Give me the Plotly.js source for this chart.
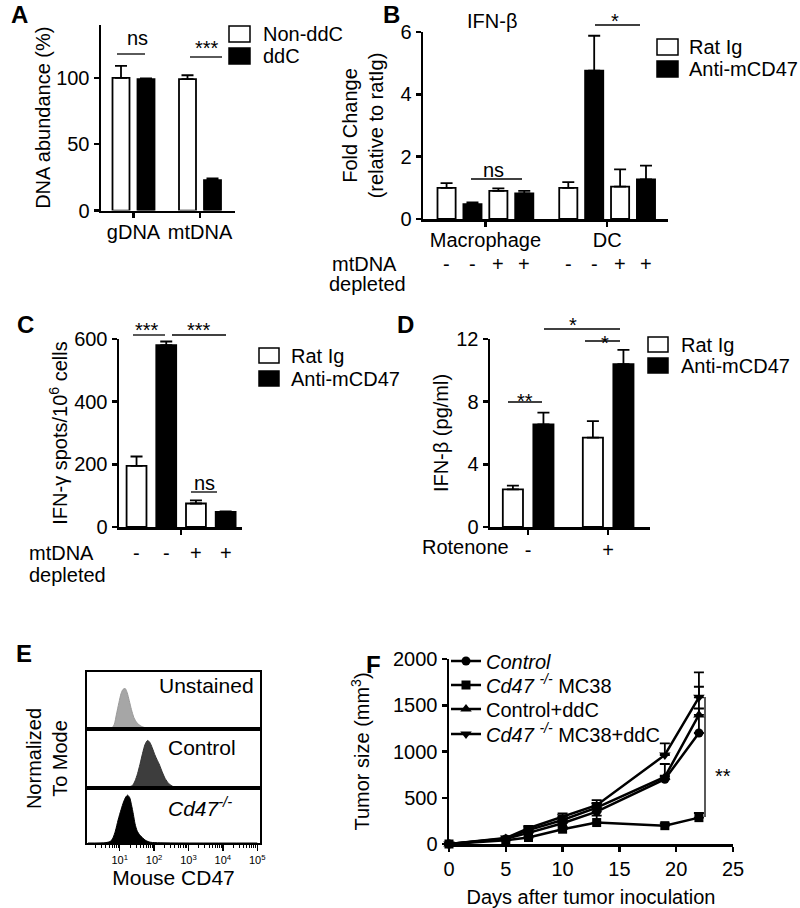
<!DOCTYPE html>
<html>
<head>
<meta charset="utf-8">
<script src="https://cdn.plot.ly/plotly-3.0.1.min.js"></script>
<style>
html, body { margin: 0; padding: 0; background: #ffffff; }
#chart { width: 800px; height: 908px; }
</style>
</head>
<body>
<div id="chart"></div>
<script>
// ===================== DATA =====================
// Panel A
const aCategories = ["gDNA", "mtDNA"];
const aLegend = ["Non-ddC", "ddC"];
const aNonDdc = [100, 99];
const aNonDdcErr = [9, 3];
const aDdc = [99, 23];
const aDdcErr = [0.6, 1.2];

// Panel B  (per cell type: [mtDNA intact, mtDNA depleted])
const bTitle = "IFN-β";
const bCellTypes = ["Macrophage", "DC"];
const bDepleted = ["-", "+"];
const bRatIg = [[1.0, 0.9], [1.0, 1.04]];
const bRatIgErr = [[0.15, 0.08], [0.18, 0.55]];
const bAnti = [[0.48, 0.82], [4.76, 1.27]];
const bAntiErr = [[0.05, 0.08], [1.12, 0.44]];
const treatLegend = ["Rat Ig", "Anti-mCD47"];

// Panel C
const cDepleted = ["-", "+"];
const cRatIg = [195, 75];
const cRatIgErr = [30, 10];
const cAnti = [580, 48];
const cAntiErr = [12, 2];

// Panel D
const dRotenone = ["-", "+"];
const dRatIg = [2.4, 5.7];
const dRatIgErr = [0.24, 1.06];
const dAnti = [6.55, 10.4];
const dAntiErr = [0.75, 0.9];

// Panel E (flow histograms, % of mode)
const eLabels = ["Unstained", "Control", "<i>Cd47<sup>-/-</sup></i>"];
const eTickVals = [10, 100, 1000, 10000, 100000];
const eTickText = ["10<sup>1</sup>", "10<sup>2</sup>", "10<sup>3</sup>", "10<sup>4</sup>", "10<sup>5</sup>"];
const eUnstX = [1.2, 4, 6, 7, 8, 9.5, 11, 12.5, 14.5, 16.5, 19, 22, 26, 32, 42, 60, 120, 1000, 100000];
const eUnstY = [0, 0.5, 3, 12, 35, 65, 88, 98, 100, 90, 70, 48, 28, 15, 7, 2.5, 0.7, 0.3, 0];
const eCtrlX = [1.2, 5, 9, 14, 20, 24, 28, 33, 39, 46, 55, 65, 75, 88, 105, 125, 145, 170, 210, 270, 360, 500, 1000, 3000, 100000];
const eCtrlY = [0, 0.5, 2, 3, 3, 6, 15, 30, 50, 72, 92, 100, 96, 85, 70, 58, 48, 35, 20, 9, 3, 1.5, 0.5, 1, 0];
const eKoX = [1.2, 4, 5.5, 6.5, 7.5, 9, 11, 13, 15, 17, 19.5, 22, 25, 28, 32, 38, 46, 58, 80, 150, 100000];
const eKoY = [0, 0.8, 4, 12, 25, 48, 70, 86, 96, 100, 95, 80, 60, 40, 26, 17, 11, 5, 1.5, 0.4, 0];

// Panel F (tumor growth)
const fDays = [0, 5, 7, 10, 13, 19, 22];
const fNames = ["<i>Control</i>", "<i>Cd47 <sup>-/-</sup></i> MC38", "Control+ddC", "<i>Cd47 <sup>-/-</sup></i> MC38+ddC"];
const fControl = [0, 55, 120, 225, 350, 700, 1200];
const fControlErr = [0, 10, 20, 30, 45, 40, 265];
const fKo = [0, 40, 70, 160, 232, 198, 285];
const fKoErr = [0, 8, 15, 25, 75, 25, 50];
const fCtrlDdc = [0, 60, 150, 260, 393, 725, 1395];
const fCtrlDdcErr = [0, 12, 25, 35, 50, 140, 305];
const fKoDdc = [0, 65, 170, 295, 420, 962, 1586];
const fKoDdcErr = [0, 12, 25, 35, 55, 126, 270];

// ===================== HELPERS =====================
const W = 800, H = 908;
const px = v => v / W;
const py = v => 1 - v / H;
const FONT = "Liberation Sans, Arial, Helvetica, sans-serif";
const f20 = {family: FONT, size: 20, color: '#000'};

function baseAxis(extra) {
  return Object.assign({
    showline: true, linecolor: '#000', linewidth: 2.5,
    ticks: 'outside', ticklen: 5, tickwidth: 2.5, tickcolor: '#000',
    showgrid: false, zeroline: false, fixedrange: true, automargin: false,
    tickfont: f20
  }, extra);
}
function barTrace(xs, ys, errs, fill, xa, ya, width) {
  return {
    type: 'bar', x: xs, y: ys, width: width, xaxis: xa, yaxis: ya,
    marker: {color: fill, line: {color: '#000', width: 1.8}},
    error_y: {type: 'data', array: errs, arrayminus: errs.map(() => 0), symmetric: false,
              visible: true, color: '#000', thickness: 1.8, width: 6},
    showlegend: false, hoverinfo: 'skip'
  };
}
function ann(text, x, y, opts) {
  return Object.assign({text: text, x: px(x), y: py(y), xref: 'paper', yref: 'paper',
    showarrow: false, xanchor: 'center', yanchor: 'middle', borderpad: 0, font: f20}, opts || {});
}
function rect(x0, y0, x1, y1, fill) {
  return {type: 'rect', xref: 'paper', yref: 'paper', x0: px(x0), x1: px(x1), y0: py(y0), y1: py(y1),
          fillcolor: fill, line: {color: '#000', width: 1.5}};
}
function seg(x0, y0, x1, y1) {
  return {type: 'line', xref: 'paper', yref: 'paper', x0: px(x0), x1: px(x1), y0: py(y0), y1: py(y1),
          line: {color: '#000', width: 1.3}};
}

const traces = [];
const annotations = [];
const shapes = [];

// ----- Panel A -----
const aStep = 2.66, aW = 0.68;
const aPosW = aCategories.map((_, g) => g * aStep);
const aPosB = aCategories.map((_, g) => g * aStep + 1);
traces.push(barTrace(aPosW, aNonDdc, aNonDdcErr, '#fff', 'x', 'y', aW));
traces.push(barTrace(aPosB, aDdc, aDdcErr, '#000', 'x', 'y', aW));

// ----- Panel B -----
const bStep = 4.7, bW = 0.7;
const bPosW = [], bValW = [], bErrW = [], bPosB = [], bValB = [], bErrB = [];
bCellTypes.forEach((_, g) => bDepleted.forEach((_, k) => {
  bPosW.push(g * bStep + 2 * k); bValW.push(bRatIg[g][k]); bErrW.push(bRatIgErr[g][k]);
  bPosB.push(g * bStep + 2 * k + 1); bValB.push(bAnti[g][k]); bErrB.push(bAntiErr[g][k]);
}));
traces.push(barTrace(bPosW, bValW, bErrW, '#fff', 'x2', 'y2', bW));
traces.push(barTrace(bPosB, bValB, bErrB, '#000', 'x2', 'y2', bW));
bCellTypes.forEach((_, g) => [0, 1, 2, 3].forEach(j => {
  annotations.push({text: bDepleted[Math.floor(j / 2)], x: g * bStep + j, xref: 'x2', y: py(264), yref: 'paper',
    showarrow: false, xanchor: 'center', yanchor: 'middle', borderpad: 0, font: f20});
}));

// ----- Panel C -----
const cW = 0.67;
const cPosW = cDepleted.map((_, k) => 2 * k);
const cPosB = cDepleted.map((_, k) => 2 * k + 1);
traces.push(barTrace(cPosW, cRatIg, cRatIgErr, '#fff', 'x3', 'y3', cW));
traces.push(barTrace(cPosB, cAnti, cAntiErr, '#000', 'x3', 'y3', cW));
[0, 1, 2, 3].forEach(j => {
  annotations.push({text: cDepleted[Math.floor(j / 2)], x: j, xref: 'x3', y: py(553), yref: 'paper',
    showarrow: false, xanchor: 'center', yanchor: 'middle', borderpad: 0, font: f20});
});

// ----- Panel D -----
const dStep = 2.62, dW = 0.66;
const dPosW = dRotenone.map((_, g) => g * dStep);
const dPosB = dRotenone.map((_, g) => g * dStep + 1);
traces.push(barTrace(dPosW, dRatIg, dRatIgErr, '#fff', 'x4', 'y4', dW));
traces.push(barTrace(dPosB, dAnti, dAntiErr, '#000', 'x4', 'y4', dW));

// ----- Panel E -----
function histTrace(xs, ys, lineColor, fillColor, xa, ya) {
  return {type: 'scatter', mode: 'lines', x: xs, y: ys, xaxis: xa, yaxis: ya,
    line: {color: lineColor, width: 1, shape: 'spline', smoothing: 0.7},
    fill: 'tozeroy', fillcolor: fillColor, showlegend: false, hoverinfo: 'skip'};
}
traces.push(histTrace(eUnstX, eUnstY, '#9a9a9a', '#a6a6a6', 'x5', 'y5'));
traces.push(histTrace(eCtrlX, eCtrlY, '#333333', '#3d3d3d', 'x6', 'y6'));
traces.push(histTrace(eKoX, eKoY, '#000000', '#000000', 'x7', 'y7'));
const eMinor = [];
[0, 1, 2, 3, 4].forEach(k => [2, 3, 4, 5, 6, 7, 8, 9].forEach(m => eMinor.push(m * Math.pow(10, k))));

// ----- Panel F -----
const fSeries = [
  [fControl, fControlErr, 'circle', 9],
  [fKo, fKoErr, 'square', 9],
  [fCtrlDdc, fCtrlDdcErr, 'triangle-up', 10],
  [fKoDdc, fKoDdcErr, 'triangle-down', 10]
];
const legendIds = ['legend', 'legend2', 'legend3', 'legend4'];
fSeries.forEach((s, i) => {
  traces.push({
    type: 'scatter', mode: 'lines+markers', name: fNames[i], x: fDays, y: s[0],
    xaxis: 'x8', yaxis: 'y8', cliponaxis: false,
    line: {color: '#000', width: 2.5},
    marker: {symbol: s[2], size: s[3], color: '#000'},
    error_y: {type: 'data', array: s[1], arrayminus: s[1].map(() => 0), symmetric: false,
              color: '#000', thickness: 1.8, width: 5},
    legend: legendIds[i], showlegend: true, hoverinfo: 'skip'
  });
});
function legendAt(yPx) {
  return {x: px(446), y: py(yPx), xanchor: 'left', yanchor: 'middle', bgcolor: 'rgba(0,0,0,0)',
          borderwidth: 0, font: f20, itemwidth: 30};
}

// ----- Annotations: panel letters -----
const letterFont = {family: FONT, size: 24, color: '#000', weight: 'bold'};
[['A', 19, 14], ['B', 391, 14], ['C', 25, 324], ['D', 406, 324], ['E', 24, 653], ['F', 373, 664]]
  .forEach(l => annotations.push(ann('<b>' + l[0] + '</b>', l[1], l[2], {font: letterFont})));

// Legends for bar panels (boxes + labels)
shapes.push(rect(229, 26, 250, 42, '#fff'), rect(229, 48, 250, 64, '#000'));
annotations.push(ann(aLegend[0], 262, 34, {xanchor: 'left'}), ann(aLegend[1], 262, 56, {xanchor: 'left'}));
shapes.push(rect(657, 39, 678, 55, '#fff'), rect(657, 61, 678, 77, '#000'));
annotations.push(ann(treatLegend[0], 688, 47, {xanchor: 'left'}), ann(treatLegend[1], 688, 69, {xanchor: 'left'}));
shapes.push(rect(259, 348, 279, 363, '#fff'), rect(259, 371, 279, 386, '#000'));
annotations.push(ann(treatLegend[0], 290, 356, {xanchor: 'left'}), ann(treatLegend[1], 290, 379, {xanchor: 'left'}));
shapes.push(rect(648, 337, 668, 352, '#fff'), rect(648, 358, 668, 373, '#000'));
annotations.push(ann(treatLegend[0], 680, 345, {xanchor: 'left'}), ann(treatLegend[1], 680, 366, {xanchor: 'left'}));

// Significance brackets
shapes.push(seg(117, 54, 145, 54), seg(190, 57, 222, 57));
annotations.push(ann('ns', 137, 38), ann('***', 207, 47.7));
shapes.push(seg(471, 179, 522, 179), seg(595, 25, 640, 25));
annotations.push(ann('ns', 493, 170.3), ann('*', 615, 21));
shapes.push(seg(133, 335, 165, 335), seg(172, 335, 226, 335), seg(191, 492, 217, 492));
annotations.push(ann('***', 147, 329.7), ann('***', 199, 329.7), ann('ns', 204, 483.3));
shapes.push(seg(508, 402, 542, 402), seg(544, 329, 620, 329), seg(585, 341, 620, 341));
annotations.push(ann('**', 525, 400.7), ann('*', 573, 325.2), ann('*', 605, 342.7));
shapes.push(seg(705, 697, 705, 817));
annotations.push(ann('**', 723, 775.7));

// Other labels
annotations.push(ann(bTitle, 492, 21.5));
annotations.push(ann('mtDNA', 331, 264, {xanchor: 'left'}), ann('depleted', 328, 284, {xanchor: 'left'}));
annotations.push(ann('mtDNA', 28, 553, {xanchor: 'left'}), ann('depleted', 28, 575, {xanchor: 'left'}));
annotations.push(ann('Rotenone', 465, 547));
annotations.push(ann(eLabels[0], 255, 685, {xanchor: 'right', font: {family: FONT, size: 21, color: '#000'}}));
annotations.push(ann(eLabels[1], 167, 747, {xanchor: 'left', font: {family: FONT, size: 21, color: '#000'}}));
annotations.push(ann(eLabels[2], 167, 807, {xanchor: 'left', font: {family: FONT, size: 21, color: '#000'}}));

// ===================== LAYOUT =====================
const eXBase = {type: 'log', domain: [px(87), px(260)], range: [0.05, 5.08], showline: true, mirror: true,
  linecolor: '#000', linewidth: 2, showgrid: false, zeroline: false, fixedrange: true};
const eYBase = {showline: true, mirror: true, linecolor: '#000', linewidth: 2, ticks: '',
  showticklabels: false, showgrid: false, zeroline: false, fixedrange: true};

const layout = {
  width: W, height: H, margin: {l: 0, r: 0, t: 0, b: 0},
  paper_bgcolor: '#fff', plot_bgcolor: 'rgba(0,0,0,0)',
  font: f20, barmode: 'overlay', hovermode: false,
  // A
  xaxis: baseAxis({domain: [px(101), px(235)], range: [-0.8, 4.56], anchor: 'y', ticklabelstandoff: -3,
    tickvals: aCategories.map((_, g) => g * aStep + 0.5), ticktext: aCategories}),
  yaxis: baseAxis({domain: [py(210.6), py(24.8)], range: [0, 140], anchor: 'x', tickvals: [0, 50, 100],
    title: {text: 'DNA abundance (%)', font: f20, standoff: 0}}),
  // B
  xaxis2: baseAxis({domain: [px(423), px(668)], range: [-0.91, 8.55], anchor: 'y2', ticklabelstandoff: -4,
    tickvals: bCellTypes.map((_, g) => g * bStep + 1.5), ticktext: bCellTypes}),
  yaxis2: baseAxis({domain: [py(219), py(32)], range: [0, 6], anchor: 'x2', tickvals: [0, 2, 4, 6],
    title: {text: 'Fold Change<br>(relative to ratIg)', font: f20, standoff: 12}}),
  // C
  xaxis3: baseAxis({domain: [px(119), px(242)], range: [-0.59, 3.55], anchor: 'y3',
    tickvals: [1.5], showticklabels: false}),
  yaxis3: baseAxis({domain: [py(527), py(339)], range: [0, 600], anchor: 'x3', tickvals: [0, 200, 400, 600],
    title: {text: 'IFN-γ spots/10<sup>6</sup> cells', font: f20, standoff: 1}}),
  // D
  xaxis4: baseAxis({domain: [px(490), px(650)], range: [-0.75, 4.49], anchor: 'y4', ticklabelstandoff: -2,
    tickvals: dRotenone.map((_, g) => g * dStep + 0.5), ticktext: dRotenone}),
  yaxis4: baseAxis({domain: [py(527), py(339)], range: [0, 12], anchor: 'x4', tickvals: [0, 4, 8, 12],
    title: {text: 'IFN-β (pg/ml)', font: f20, standoff: 3}}),
  // E
  xaxis5: Object.assign({}, eXBase, {anchor: 'y5', matches: 'x7', ticks: '', showticklabels: false}),
  xaxis6: Object.assign({}, eXBase, {anchor: 'y6', matches: 'x7', ticks: '', showticklabels: false}),
  xaxis7: Object.assign({}, eXBase, {anchor: 'y7', ticks: 'outside', ticklen: 6, tickwidth: 1.5, tickcolor: '#000',
    tickvals: eTickVals, ticktext: eTickText, tickfont: {family: FONT, size: 11, color: '#000'},
    minor: {tickmode: 'array', tickvals: eMinor, ticks: 'outside', ticklen: 3, tickwidth: 1, tickcolor: '#000'},
    title: {text: 'Mouse CD47', font: {family: FONT, size: 21, color: '#000'}, standoff: 5}}),
  yaxis5: Object.assign({}, eYBase, {domain: [py(729), py(672)], range: [0, 141], anchor: 'x5'}),
  yaxis6: Object.assign({}, eYBase, {domain: [py(788), py(729)], range: [0, 124], anchor: 'x6',
    title: {text: 'Normalized<br>To Mode', font: f20, standoff: 12}}),
  yaxis7: Object.assign({}, eYBase, {domain: [py(843), py(788)], range: [0, 115], anchor: 'x7'}),
  // F
  xaxis8: baseAxis({domain: [px(449), px(733)], range: [0, 25], anchor: 'y8', tickvals: [0, 5, 10, 15, 20, 25],
    title: {text: 'Days after tumor inoculation', font: f20, standoff: 16}}),
  yaxis8: baseAxis({domain: [py(844), py(659)], range: [0, 2000], anchor: 'x8',
    tickvals: [0, 500, 1000, 1500, 2000],
    title: {text: 'Tumor size (mm<sup>3</sup>)', font: f20, standoff: 18}}),
  legend: legendAt(661), legend2: legendAt(685), legend3: legendAt(709), legend4: legendAt(734),
  annotations: annotations,
  shapes: shapes
};

Plotly.newPlot('chart', traces, layout, {staticPlot: true, displayModeBar: false});
</script>
</body>
</html>
